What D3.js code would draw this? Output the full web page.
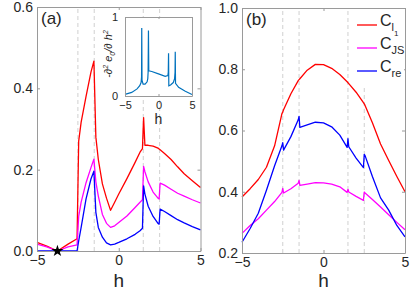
<!DOCTYPE html>
<html>
<head>
<meta charset="utf-8">
<script src="https://cdn.jsdelivr.net/npm/d3@7"></script>
<style>
	body { margin: 0; background: #fff; }
	svg text { font-family: 'Liberation Sans', Arial, sans-serif; fill: #262626; }
</style>
</head>
<body>
<svg id="chart" width="415" height="291"></svg>
<script>
// panel (a) : correlations near the transitions
let hA = [-5, -4.4, -3.75, -3.1, -2.55, -2.45, -2.3, -2, -1.7, -1.52, -1.4, -1.25, -1, -0.75, -0.5, -0.25, 0, 0.5, 1, 1.3, 1.45, 1.52, 1.6, 1.8, 2.1, 2.4, 2.47, 2.53, 2.8, 3.2, 3.6, 4, 4.5, 5];
let redA = [0.021, 0.012, 0, 0.017, 0.03, 0.27, 0.317, 0.38, 0.44, 0.467, 0.28, 0.225, 0.165, 0.13, 0.1, 0.12, 0.14, 0.178, 0.218, 0.243, 0.252, 0.328, 0.26, 0.26, 0.258, 0.253, 0.251, 0.249, 0.24, 0.225, 0.207, 0.19, 0.173, 0.156];
let magentaA = [0.017, 0.01, 0, 0.01, 0.015, 0.085, 0.12, 0.168, 0.205, 0.226, 0.17, 0.135, 0.09, 0.068, 0.058, 0.062, 0.07, 0.086, 0.107, 0.12, 0.126, 0.208, 0.195, 0.17, 0.145, 0.13, 0.128, 0.167, 0.162, 0.152, 0.142, 0.135, 0.126, 0.118];
let blueA = [0, 0, 0, 0, 0, 0.025, 0.058, 0.128, 0.177, 0.196, 0.095, 0.058, 0.034, 0.02, 0.015, 0.017, 0.021, 0.03, 0.041, 0.05, 0.056, 0.16, 0.14, 0.11, 0.085, 0.068, 0.066, 0.103, 0.097, 0.087, 0.077, 0.069, 0.06, 0.052];

// panel (b)
let hB = [-5, -4.5, -4, -3.5, -3, -2.55, -2.5, -2.45, -2, -1.55, -1.5, -1.45, -1, -0.5, 0, 0.5, 1, 1.45, 1.5, 1.55, 2, 2.45, 2.5, 2.55, 3, 3.5, 4, 4.5, 5];
let redB = [0.383, 0.41, 0.44, 0.48, 0.55, 0.655, 0.66, 0.668, 0.72, 0.763, 0.766, 0.769, 0.797, 0.816, 0.815, 0.803, 0.783, 0.759, 0.756, 0.753, 0.725, 0.691, 0.687, 0.682, 0.625, 0.556, 0.502, 0.45, 0.4];
let magentaB = [0.264, 0.29, 0.312, 0.34, 0.368, 0.398, 0.411, 0.396, 0.41, 0.428, 0.437, 0.421, 0.425, 0.43, 0.429, 0.425, 0.416, 0.398, 0.408, 0.399, 0.385, 0.372, 0.399, 0.396, 0.375, 0.35, 0.325, 0.3, 0.276];
let blueB = [0.235, 0.28, 0.33, 0.405, 0.485, 0.55, 0.56, 0.536, 0.58, 0.635, 0.646, 0.61, 0.618, 0.627, 0.625, 0.612, 0.585, 0.545, 0.573, 0.547, 0.51, 0.479, 0.522, 0.518, 0.45, 0.38, 0.34, 0.29, 0.253];

// inset : -d2e0/dh2
let hInset = [-5, -4, -3.2, -2.8, -2.6, -2.53, -2.5, -2.46, -2.3, -2, -1.7, -1.6, -1.55, -1.5, -1.45, -1, 0, 1, 1.4, 1.46, 1.5, 1.54, 1.8, 2.2, 2.4, 2.47, 2.5, 2.54, 3, 4, 5];
let dInset = [0.02, 0.045, 0.09, 0.13, 0.17, 0.24, 0.86, 0.2, 0.15, 0.15, 0.18, 0.22, 0.3, 0.83, 0.32, 0.31, 0.28, 0.25, 0.26, 0.3, 0.54, 0.13, 0.14, 0.17, 0.22, 0.3, 0.56, 0.16, 0.11, 0.06, 0.02];

let transitions = [-2.5, -1.5, 1.5, 2.5];
let starPoint = [-3.75, 0];
let ticksH = [-5, 0, 5];
let ticksA = [0, 0.2, 0.4, 0.6];
let ticksB = [0.2, 0.4, 0.6, 0.8, 1.0];
let ticksInset = [0, 1];
let legendSubs = ['l', 'JS', 're'];
let colors = ['#ff0000', '#ff00ff', '#0000ff'];

let svg = d3.select('#chart');
let boxColor = '#9a9a9a';

function drawBox(g, x, y, yTicks, yFormat, fontSize, tick, padX, padY)
{
	let x0 = x.range()[0], x1 = x.range()[1];
	let y0 = y.range()[0], y1 = y.range()[1];

	g.append('g')
		.attr('transform', `translate(0,${y0})`)
		.call(d3.axisBottom(x).tickValues(ticksH).tickSize(-tick).tickSizeOuter(0).tickPadding(padX))
		.call(a => a.selectAll('text').style('font-size', fontSize + 'px'))
	;
	g.append('g')
		.attr('transform', `translate(0,${y1})`)
		.call(d3.axisTop(x).tickValues(ticksH).tickSize(-tick).tickSizeOuter(0).tickFormat(''))
	;
	g.append('g')
		.attr('transform', `translate(${x0},0)`)
		.call(d3.axisLeft(y).tickValues(yTicks).tickSize(-tick).tickSizeOuter(0).tickPadding(padY).tickFormat(yFormat))
		.call(a => a.selectAll('text').style('font-size', fontSize + 'px'))
	;
	g.append('g')
		.attr('transform', `translate(${x1},0)`)
		.call(d3.axisRight(y).tickValues(yTicks).tickSize(-tick).tickSizeOuter(0).tickFormat(''))
	;

	g.selectAll('.domain, .tick line').attr('stroke', boxColor);
	g.selectAll('.tick text').attr('fill', '#262626').style('font-family', "'Liberation Sans', Arial, sans-serif");
}

function drawPanel(x, y, hs, series, yTicks, label)
{
	let g = svg.append('g');

	g.selectAll('line.trans')
		.data(transitions)
		.enter()
		.append('line')
		.attr('class', 'trans')
		.attr('x1', d => x(d))
		.attr('x2', d => x(d))
		.attr('y1', y.range()[0])
		.attr('y2', y.range()[1])
		.attr('stroke', '#d0d0d0')
		.attr('stroke-width', 1)
		.attr('stroke-dasharray', '4,3')
	;

	let line = d3.line()
		.x((d, i) => x(hs[i]))
		.y(d => y(d))
	;

	g.selectAll('path.curve')
		.data(series)
		.enter()
		.append('path')
		.attr('class', 'curve')
		.attr('d', d => line(d))
		.attr('fill', 'none')
		.attr('stroke', (d, i) => colors[i])
		.attr('stroke-width', 1.3)
		.attr('stroke-linejoin', 'round')
	;

	drawBox(g, x, y, yTicks, d3.format('.1f'), 14, 3, 4, 4);

	g.append('text')
		.attr('x', (x.range()[0] + x.range()[1]) / 2)
		.attr('y', 287)
		.attr('text-anchor', 'middle')
		.style('font-size', '19px')
		.text('h')
	;

	g.append('text')
		.attr('x', x.range()[0] + 4)
		.attr('y', y.range()[1] + 17)
		.style('font-size', '17px')
		.text(label)
	;

	return g;
}

// panel (a)
let xA = d3.scaleLinear().domain([-5, 5]).range([37, 200.5]);
let yA = d3.scaleLinear().domain([0, 0.6]).range([251, 7]);
let gA = drawPanel(xA, yA, hA, [redA, magentaA, blueA], ticksA, '(a)');

gA.append('path')
	.attr('d', d3.symbol().type(d3.symbolStar).size(45))
	.attr('transform', `translate(${xA(starPoint[0])},${yA(starPoint[1])})`)
	.attr('fill', '#000')
;

// inset in panel (a)
let xI = d3.scaleLinear().domain([-5, 5]).range([125, 192]);
let yI = d3.scaleLinear().domain([0, 1]).range([96, 17]);
let gI = svg.append('g');

gI.append('rect')
	.attr('x', xI.range()[0])
	.attr('y', yI.range()[1])
	.attr('width', xI.range()[1] - xI.range()[0])
	.attr('height', yI.range()[0] - yI.range()[1])
	.attr('fill', '#fff')
;

gI.append('path')
	.attr('d', d3.line().x((d, i) => xI(hInset[i])).y(d => yI(d))(dInset))
	.attr('fill', 'none')
	.attr('stroke', '#0072bd')
	.attr('stroke-width', 1.2)
;

drawBox(gI, xI, yI, ticksInset, d3.format('d'), 11, 2, 5, 7);

gI.append('text')
	.attr('x', (xI.range()[0] + xI.range()[1]) / 2)
	.attr('y', 124)
	.attr('text-anchor', 'middle')
	.style('font-size', '14px')
	.text('h')
;

let yLab = gI.append('text')
	.attr('transform', 'translate(112,54) rotate(-90)')
	.attr('text-anchor', 'middle')
	.style('font-size', '11px')
	.style('font-style', 'italic')
;
yLab.append('tspan').text('-∂');
yLab.append('tspan').attr('dy', -4).style('font-size', '7px').text('2');
yLab.append('tspan').attr('dy', 4).text(' e');
yLab.append('tspan').attr('dy', 3).style('font-size', '7px').text('0');
yLab.append('tspan').attr('dy', -3).text('/∂ h');
yLab.append('tspan').attr('dy', -4).style('font-size', '7px').text('2');

// panel (b)
let xB = d3.scaleLinear().domain([-5, 5]).range([242, 405]);
let yB = d3.scaleLinear().domain([0.2, 1]).range([253, 8]);
let gB = drawPanel(xB, yB, hB, [redB, magentaB, blueB], ticksB, '(b)');

// legend
let legend = gB.append('g');

legend.append('rect')
	.attr('x', 353)
	.attr('y', 9)
	.attr('width', 51)
	.attr('height', 76)
	.attr('fill', '#fff')
;

let entries = legend.selectAll('g.entry')
	.data(legendSubs)
	.enter()
	.append('g')
	.attr('class', 'entry')
	.attr('transform', (d, i) => `translate(0,${25 + i * 23})`)
;

entries.append('line')
	.attr('x1', 357)
	.attr('x2', 377)
	.attr('stroke', (d, i) => colors[i])
	.attr('stroke-width', 1.3)
;

let labels = entries.append('text')
	.attr('x', 380)
	.attr('y', 1)
	.style('font-size', '16px')
;
labels.append('tspan').text('C');
labels.append('tspan')
	.attr('dy', 5)
	.style('font-size', '11px')
	.text(d => d)
;
labels.filter(d => d == 'l')
	.append('tspan')
	.attr('dy', 5)
	.style('font-size', '8px')
	.text('1')
;
</script>
</body>
</html>
